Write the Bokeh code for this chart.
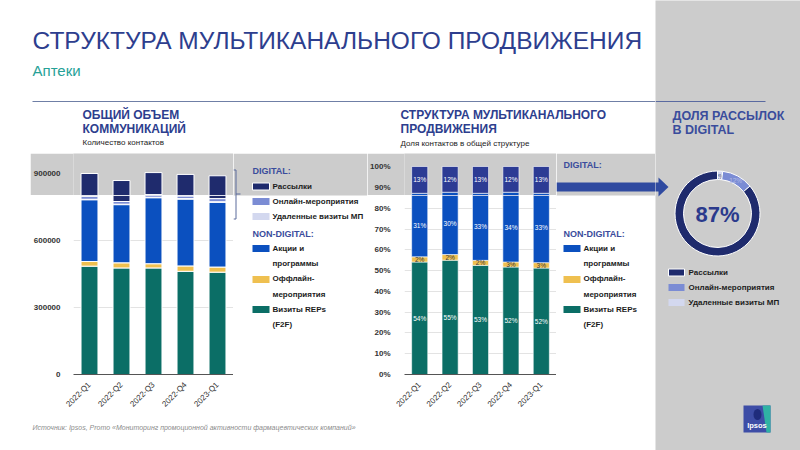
import math
from bokeh.plotting import figure
from bokeh.layouts import row, column
from bokeh.models import Range1d, FixedTicker, ColumnDataSource
from bokeh.core.properties import value
from bokeh.embed import file_html
from bokeh.resources import INLINE

FONT = "Liberation Sans"

# ---------------- data ----------------
quarters = ["2022-Q1", "2022-Q2", "2022-Q3", "2022-Q4", "2023-Q1"]

# Left chart: number of contacts
visits_reps = [486000, 478000, 478000, 463000, 459000]
offline_events = [21000, 23000, 19000, 24000, 23000]
promo_actions = [277000, 261000, 296000, 300000, 291000]
remote_visits = [2000, 2000, 2000, 2000, 2000]
online_events = [13000, 12000, 12000, 12000, 14000]
mailings = [101000, 93000, 97000, 95000, 101000]
count_ticks = [0, 300000, 600000, 900000]
count_tick_labels = ["0", "300000", "600000", "900000"]

# Middle chart: share of contacts, %
share_visits = [54.2, 55.1, 52.6, 51.8, 51.3]
share_offline = [2.5, 2.7, 2.4, 2.4, 2.6]
share_promo = [30.6, 30.0, 32.3, 33.6, 33.4]
share_digital = [12.7, 12.2, 12.7, 12.2, 12.7]
label_visits = ["54%", "55%", "53%", "52%", "52%"]
label_offline = ["2%", "2%", "2%", "3%", "3%"]
label_promo = ["31%", "30%", "33%", "34%", "33%"]
label_digital = ["13%", "12%", "13%", "12%", "13%"]
pct_ticks = [0, 10, 20, 30, 40, 50, 60, 70, 80, 90, 100]
pct_tick_labels = ["0%", "10%", "20%", "30%", "40%", "50%", "60%", "70%", "80%", "90%", "100%"]

# Donut: digital structure
donut_names = ["Удаленные визиты  МП", "Онлайн-мероприятия", "Рассылки"]
donut_shares = [2, 12, 87]
donut_labels = ["2%", "12%", "87%"]

# ---------------- colours ----------------
GRAY = "#cccccc"
C_VIS = "#0b6e66"
C_OFF = "#efc050"
C_PRO = "#0b50bf"
C_REM = "#d3d8ef"
C_ONL = "#7b8cd4"
C_MAIL = "#1f2b6d"
C_DIG = "#2c3b94"
TITLE = "#2d3e8e"
HEAD = "#3a4c9c"
DARK = "#1c1c1c"

# band split (in axis units) and scales
COUNT_SPLIT, COUNT_TOP = 802941, 988235
PCT_SPLIT, PCT_TOP = 86.256, 106.16
BAND_H, LOWER_H = 42, 219


def deco(width, height, x0, x1, y_top, y_bottom, bg="white"):
    p = figure(width=width, height=height, x_range=Range1d(x0, x1),
               y_range=Range1d(y_bottom, y_top), x_axis_type=None, y_axis_type=None,
               toolbar_location=None, output_backend="svg", min_border=0,
               outline_line_color=None, background_fill_color=bg, border_fill_color=bg)
    return p


def txt(p, x, y, s, size, color, style="normal", align="left", baseline="middle"):
    p.text(x=[x], y=[y], text=[s], text_font=value(FONT),
           text_font_size=value(f"{size}px"), text_color=color,
           text_font_style=style, text_align=align, text_baseline=baseline)


def swatch(p, x0, x1, yc, color, h=7, line=None):
    p.quad(left=[x0], right=[x1], top=[yc - h / 2], bottom=[yc + h / 2],
           fill_color=color, line_color=line, line_width=1)


def chart_pair(width, left_border, y_split, y_top, ticks, tick_labels, standoff):
    top = figure(width=width, height=BAND_H, x_range=quarters,
                 y_range=Range1d(y_split, y_top), toolbar_location=None,
                 output_backend="svg", x_axis_location=None,
                 min_border_left=left_border, min_border_right=0, min_border_top=0,
                 min_border_bottom=0, outline_line_color=None,
                 background_fill_color=GRAY, border_fill_color=GRAY)
    bot = figure(width=width, height=LOWER_H, x_range=top.x_range,
                 y_range=Range1d(0, y_split), toolbar_location=None,
                 output_backend="svg", min_border_left=left_border,
                 min_border_right=0, min_border_top=0, min_border_bottom=37,
                 outline_line_color=None)
    for p in (top, bot):
        p.xgrid.visible = False
        p.ygrid.grid_line_color = "#e3e3e3"
        p.yaxis.axis_line_color = None
        p.yaxis.major_tick_line_color = None
        p.yaxis.minor_tick_line_color = None
        p.yaxis.major_label_text_font = FONT
        p.yaxis.major_label_text_font_size = "8px"
        p.yaxis.major_label_text_font_style = "bold"
        p.yaxis.major_label_text_color = "#333333"
        p.yaxis.ticker = FixedTicker(ticks=ticks)
        p.yaxis.major_label_overrides = dict(zip(ticks, tick_labels))
        p.yaxis.major_label_standoff = standoff
    top.ygrid.grid_line_color = None
    bot.xaxis.axis_line_color = "#555555"
    bot.xaxis.major_tick_line_color = None
    bot.xaxis.major_label_orientation = math.pi / 4
    bot.xaxis.major_label_text_font = FONT
    bot.xaxis.major_label_text_font_size = "8px"
    bot.xaxis.major_label_text_color = "#333333"
    bot.xaxis.major_label_standoff = 3
    return top, bot


# ---------------- header ----------------
H = deco(655, 153, 0, 655, 0, 153)
txt(H, 32, 40, "СТРУКТУРА МУЛЬТИКАНАЛЬНОГО ПРОДВИЖЕНИЯ", 24.5, TITLE)
txt(H, 32, 70, "Аптеки", 15, "#26a197")
H.line(x=[32, 655], y=[101, 101], line_color="#6f7fa6", line_width=1)
txt(H, 82, 114, "ОБЩИЙ ОБЪЕМ", 12, TITLE, "bold")
txt(H, 82, 128, "КОММУНИКАЦИЙ", 12, TITLE, "bold")
txt(H, 82, 142, "Количество  контактов", 8, DARK)
txt(H, 400, 114, "СТРУКТУРА МУЛЬТИКАНАЛЬНОГО", 12, TITLE, "bold")
txt(H, 400, 128, "ПРОДВИЖЕНИЯ", 12, TITLE, "bold")
txt(H, 400, 143, "Доля контактов  в общей структуре", 8, DARK)

# white strip left of the grey band
W = deco(30, 261, 0, 30, 153, 414)

# ---------------- left chart ----------------
A_top, A_bot = chart_pair(203, 43, COUNT_SPLIT, COUNT_TOP, count_ticks, count_tick_labels, 7)
srcA = ColumnDataSource(dict(quarter=quarters, visits=visits_reps, offline=offline_events,
                             promo=promo_actions, remote=remote_visits,
                             online=online_events, mail=mailings))
for p in (A_top, A_bot):
    p.vbar_stack(["visits", "offline", "promo", "remote", "online", "mail"], x="quarter",
                 width=0.53, color=[C_VIS, C_OFF, C_PRO, C_REM, C_ONL, C_MAIL],
                 line_color="white", line_width=1, source=srcA)

# ---------------- legend 1 ----------------
B = deco(134, 261, 233, 367, 153, 414)
B.quad(left=[233], right=[367], top=[153], bottom=[195], fill_color=GRAY, line_color=None)
B.multi_line(xs=[[233, 235.5], [235.5, 235.5], [235.5, 240], [233, 235.5]],
             ys=[[169.5, 169.5], [169.5, 218.5], [193.5, 193.5], [218.5, 218.5]],
             line_color="#5b6b9b", line_width=1)
txt(B, 252, 170, "DIGITAL:", 9, HEAD, "bold")
swatch(B, 252, 269, 186, C_MAIL, line="white")
swatch(B, 252, 269, 201, C_ONL)
swatch(B, 252, 269, 216, C_REM)
txt(B, 272, 186, "Рассылки", 8, DARK, "bold")
txt(B, 272, 201, "Онлайн-мероприятия", 8, DARK, "bold")
txt(B, 272, 216, "Удаленные визиты МП", 8, DARK, "bold")
txt(B, 252, 233, "NON-DIGITAL:", 9, HEAD, "bold")
swatch(B, 252, 269, 248, C_PRO)
swatch(B, 252, 269, 279, C_OFF)
swatch(B, 252, 269, 309, C_VIS)
for yy, s in [(248, "Акции и"), (263, "программы"), (278, "Оффлайн-"),
              (294, "мероприятия"), (309, "Визиты REPs"), (324, "(F2F)")]:
    txt(B, 272, yy, s, 8, DARK, "bold")

# ---------------- middle chart ----------------
C_top, C_bot = chart_pair(189, 30, PCT_SPLIT, PCT_TOP, pct_ticks, pct_tick_labels, 8)
srcC = ColumnDataSource(dict(quarter=quarters, visits=share_visits, offline=share_offline,
                             promo=share_promo, digital=share_digital))
for p in (C_top, C_bot):
    p.vbar_stack(["visits", "offline", "promo", "digital"], x="quarter", width=0.53,
                 color=[C_VIS, C_OFF, C_PRO, C_DIG], line_color="white", line_width=0.6,
                 source=srcC)

stack_series = [share_visits, share_offline, share_promo, share_digital]
stack_labels = [label_visits, label_offline, label_promo, label_digital]
stack_colors = ["white", "#3a3a3a", "white", "white"]
base = [0.0] * len(quarters)
for vals, labs, col in zip(stack_series, stack_labels, stack_colors):
    mids = [b + v / 2 for b, v in zip(base, vals)]
    target = C_top if min(mids) > PCT_SPLIT else C_bot
    target.text(x=quarters, y=mids, text=labs, text_font=value(FONT),
                text_font_size=value("6.5px"), text_color=col, text_align="center",
                text_baseline="middle")
    base = [b + v for b, v in zip(base, vals)]

# ---------------- legend 2 + arrow ----------------
D = deco(99, 261, 556, 655, 153, 414)
D.quad(left=[556], right=[655], top=[153], bottom=[195], fill_color=GRAY, line_color=None)
D.quad(left=[556], right=[656], top=[182], bottom=[191], fill_color="#2f4aa0", line_color=None)
txt(D, 563, 164, "DIGITAL:", 9, HEAD, "bold")
txt(D, 563, 233, "NON-DIGITAL:", 9, HEAD, "bold")
swatch(D, 563, 580, 248, C_PRO)
swatch(D, 563, 580, 279, C_OFF)
swatch(D, 563, 580, 309, C_VIS)
for yy, s in [(248, "Акции и"), (263, "программы"), (278, "Оффлайн-"),
              (294, "мероприятия"), (309, "Визиты REPs"), (324, "(F2F)")]:
    txt(D, 583, yy, s, 8, DARK, "bold")

# ---------------- footer ----------------
F = deco(655, 36, 0, 655, 414, 450)
txt(F, 32, 427, "Источник: Ipsos, Promo «Мониторинг промоционной активности фармацевтических компаний»",
    7, "#8c8c8c", "italic")

# ---------------- right panel ----------------
E = deco(145, 450, 655, 800, 0, 450, bg=GRAY)
E.line(x=[655, 765], y=[101, 101], line_color="#5a6aa0", line_width=1)
txt(E, 672, 115, "ДОЛЯ РАССЫЛОК", 12.5, HEAD, "bold")
txt(E, 672, 129, "В DIGITAL", 12.5, HEAD, "bold")
E.quad(left=[654], right=[659], top=[182], bottom=[191], fill_color="#2f4aa0", line_color=None)
E.patch(x=[658, 668, 658], y=[177, 186.5, 196], fill_color="#2f4aa0", line_color=None)

cx, cy, r_in, r_out = 717, 213, 34, 42.5
total = sum(donut_shares)
start = math.pi / 2
donut_cols = [C_REM, C_ONL, C_MAIL]
lab_cols = ["#4a4f70", "#b5bde4", "white"]
for share, col, lab, lcol in zip(donut_shares, donut_cols, donut_labels, lab_cols):
    end = start - share / total * 2 * math.pi
    E.annular_wedge(x=[cx], y=[cy], inner_radius=r_in, outer_radius=r_out,
                    start_angle=end, end_angle=start, fill_color=col,
                    line_color="white", line_width=1)
    if share < 50:
        mid = (start + end) / 2
        txt(E, cx + 38 * math.cos(mid), cy - 38 * math.sin(mid) + 0.5, lab, 6.5, lcol,
            align="center")
    start = end
txt(E, cx, cy + 1, donut_labels[2], 22, "#2b3a8c", "bold", align="center")

swatch(E, 668, 684, 272, C_MAIL, line="white")
swatch(E, 668, 684, 287, C_ONL)
swatch(E, 668, 684, 302, C_REM)
txt(E, 688, 272, donut_names[2], 8, DARK, "bold")
txt(E, 688, 287, donut_names[1], 8, DARK, "bold")
txt(E, 688, 302, donut_names[0], 8, DARK, "bold")

# Ipsos logo
E.quad(left=[743], right=[770], top=[405], bottom=[432], fill_color="#3d4da6", line_color=None)
E.patch(x=[762, 770, 770, 766], y=[405, 405, 432, 432], fill_color="#2fb2a4", line_color=None)
E.ellipse(x=[757], y=[414], width=8, height=11, fill_color="#1f2c7c", line_color=None)
txt(E, 756.5, 425, "Ipsos", 7.5, "white", "bold", align="center")

charts = row(W, column(A_top, A_bot), B, column(C_top, C_bot), D)
layout = row(column(H, charts, F), E)
open("out.html", "w").write(file_html(layout, INLINE))
